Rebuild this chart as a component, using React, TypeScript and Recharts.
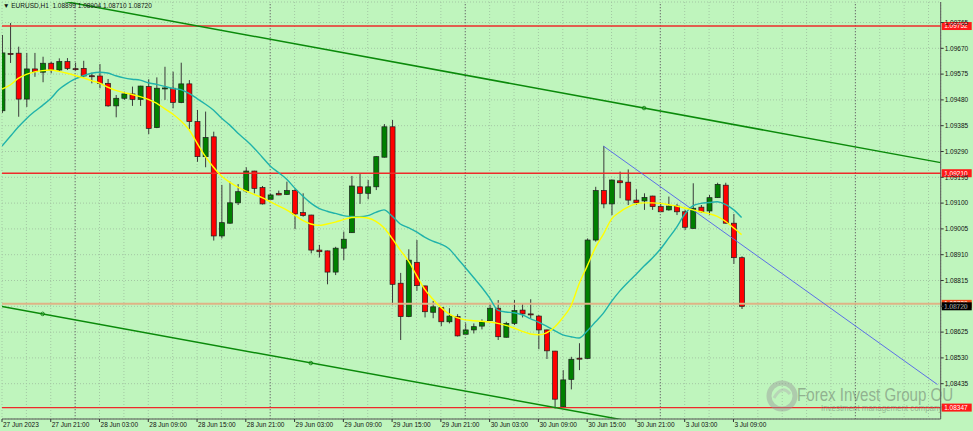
import React from 'react';
import {
  ComposedChart,
  Bar,
  Line,
  XAxis,
  YAxis,
  CartesianGrid,
  ReferenceLine,
  ReferenceDot,
} from 'recharts';

// EURUSD H1 candles, 27 Jun 15:00 .. 3 Jul 10:00
const opens = [
  1.0944, 1.09651, 1.09652, 1.09483, 1.09594, 1.09582, 1.09615, 1.0959, 1.09621, 1.09595,
  1.09596, 1.09569, 1.09568, 1.09541, 1.09458, 1.09486, 1.09502, 1.09482, 1.09529, 1.09378,
  1.09523, 1.09523, 1.0947, 1.09539, 1.094, 1.09271, 1.09344, 1.08979, 1.09026, 1.09101,
  1.09145, 1.09218, 1.09157, 1.09114, 1.09136, 1.09132, 1.09146, 1.09065, 1.09056, 1.08927,
  1.08924, 1.08846, 1.08934, 1.08991, 1.0916, 1.09136, 1.0916, 1.09269, 1.09381, 1.08805,
  1.08682, 1.08882, 1.08795, 1.08698, 1.08715, 1.08663, 1.08682, 1.08617, 1.08633, 1.08647,
  1.08667, 1.08713, 1.08606, 1.08657, 1.08706, 1.08692, 1.08684, 1.08633, 1.08555, 1.0835,
  1.08451, 1.08529, 1.08528, 1.08964, 1.09146, 1.09097, 1.09182, 1.09177, 1.09111, 1.09108,
  1.09126, 1.09087, 1.09075, 1.09089, 1.09068, 1.09007, 1.09085, 1.09071, 1.0912, 1.09166,
  1.09026, 1.08899,
];
const highs = [
  1.09719, 1.09763, 1.09676, 1.09653, 1.09653, 1.09639, 1.09621, 1.09633, 1.09634, 1.09617,
  1.09624, 1.0958, 1.09612, 1.09557, 1.09498, 1.0951, 1.09529, 1.09532, 1.09556, 1.09563,
  1.09602, 1.09584, 1.09617, 1.09553, 1.09443, 1.09437, 1.09363, 1.09167, 1.09179, 1.0917,
  1.09232, 1.09219, 1.09163, 1.09134, 1.09146, 1.09179, 1.09154, 1.09136, 1.09057, 1.08946,
  1.08925, 1.08939, 1.08995, 1.092, 1.09207, 1.09185, 1.09272, 1.09391, 1.09406, 1.08843,
  1.0893, 1.08964, 1.08796, 1.0874, 1.08716, 1.08713, 1.08691, 1.08657, 1.08657, 1.08672,
  1.08731, 1.08743, 1.08663, 1.08743, 1.08731, 1.08746, 1.08688, 1.08634, 1.08556, 1.08485,
  1.08534, 1.08584, 1.0897, 1.0916, 1.0931, 1.09186, 1.09216, 1.09224, 1.09151, 1.09136,
  1.09127, 1.09097, 1.09124, 1.09097, 1.09075, 1.09173, 1.09093, 1.0913, 1.09175, 1.09175,
  1.0906, 1.08904,
];
const lows = [
  1.09432, 1.09616, 1.09418, 1.09454, 1.09565, 1.09545, 1.09578, 1.09584, 1.0959, 1.09587,
  1.09563, 1.09541, 1.09523, 1.09455, 1.09416, 1.0948, 1.09458, 1.09458, 1.09354, 1.09376,
  1.0948, 1.09449, 1.09468, 1.09372, 1.09252, 1.09232, 1.08962, 1.0897, 1.09024, 1.09093,
  1.09138, 1.09136, 1.09095, 1.09111, 1.09129, 1.0913, 1.09004, 1.0905, 1.08915, 1.089,
  1.08801, 1.08835, 1.0889, 1.0899, 1.09097, 1.09114, 1.09148, 1.09268, 1.08725, 1.08596,
  1.0868, 1.08777, 1.08679, 1.08676, 1.08647, 1.08657, 1.08609, 1.08614, 1.0862, 1.08635,
  1.08666, 1.08596, 1.08605, 1.08651, 1.08679, 1.08676, 1.08562, 1.08526, 1.08344, 1.08349,
  1.08414, 1.08485, 1.08527, 1.08958, 1.09081, 1.09056, 1.09118, 1.09093, 1.09093, 1.09075,
  1.09075, 1.09067, 1.09072, 1.09056, 1.09001, 1.09006, 1.09064, 1.09056, 1.09119, 1.09025,
  1.08876, 1.0871,
];
const closes = [
  1.09653, 1.09649, 1.09483, 1.09594, 1.09584, 1.09615, 1.0959, 1.09621, 1.09596, 1.09594,
  1.09568, 1.09567, 1.09541, 1.09458, 1.09486, 1.09502, 1.09482, 1.09531, 1.09375, 1.09523,
  1.09524, 1.09471, 1.09539, 1.094, 1.09271, 1.09342, 1.08979, 1.09028, 1.09101, 1.09142,
  1.09218, 1.09154, 1.09097, 1.0913, 1.0913, 1.09146, 1.0906, 1.09054, 1.08927, 1.08921,
  1.08846, 1.08934, 1.08967, 1.09163, 1.09136, 1.0916, 1.09271, 1.09381, 1.08801, 1.08682,
  1.0889, 1.08796, 1.087, 1.08718, 1.08663, 1.08684, 1.08611, 1.08633, 1.08645, 1.08663,
  1.08713, 1.08608, 1.08657, 1.08704, 1.08692, 1.08691, 1.08633, 1.08556, 1.08378, 1.08449,
  1.08525, 1.08528, 1.08964, 1.09146, 1.09097, 1.09185, 1.09175, 1.09111, 1.09101, 1.09121,
  1.09087, 1.09068, 1.09089, 1.09068, 1.09011, 1.09081, 1.09068, 1.0912, 1.09169, 1.09026,
  1.08899, 1.0872,
];

// moving averages (yellow = fast, teal = slow)
const maFast = [
  1.0952, 1.09535, 1.09559, 1.09574, 1.09583, 1.09588, 1.0959, 1.09585, 1.09578, 1.0957,
  1.09561, 1.09551, 1.09542, 1.09527, 1.09515, 1.09507, 1.095, 1.09492, 1.09482, 1.09468,
  1.09448, 1.09428, 1.09403, 1.09371, 1.09321, 1.09273, 1.09233, 1.092, 1.09177, 1.09159,
  1.09145, 1.09132, 1.0912, 1.09105, 1.0909, 1.09075, 1.09056, 1.09036, 1.09023, 1.09018,
  1.09023, 1.0903, 1.09039, 1.09047, 1.09048, 1.09045, 1.09033, 1.09009, 1.0897, 1.08927,
  1.08887, 1.08834, 1.08783, 1.08747, 1.08716, 1.08692, 1.08678, 1.0867, 1.08667, 1.08665,
  1.08662, 1.08657, 1.0865, 1.0864, 1.08628, 1.08618, 1.08615, 1.08622, 1.08644, 1.08678,
  1.08721, 1.08802, 1.08868, 1.08935, 1.08986, 1.09041, 1.09067, 1.09085, 1.09097, 1.09101,
  1.09101, 1.09099, 1.09094, 1.09089, 1.09082, 1.09075, 1.09068, 1.09061, 1.09051, 1.09033,
  1.09009, 1.08984,
];
const maSlow = [
  1.0931, 1.09345, 1.0938, 1.09411, 1.09437, 1.0946, 1.09485, 1.09518, 1.0954, 1.09557,
  1.09569, 1.09578, 1.09582, 1.09579, 1.09569, 1.09561, 1.09556, 1.09553, 1.09543, 1.09537,
  1.0953, 1.09522, 1.09518, 1.09504, 1.09485, 1.09465, 1.09443, 1.09413, 1.09388, 1.09358,
  1.09332, 1.09303, 1.0927, 1.09237, 1.09213, 1.09189, 1.09156, 1.09126, 1.091, 1.09081,
  1.0907, 1.09062, 1.09054, 1.09051, 1.0905, 1.09054, 1.09066, 1.09075, 1.09052, 1.09023,
  1.0901, 1.08994, 1.08975, 1.0896, 1.08949, 1.08932, 1.08898, 1.08863, 1.08827, 1.08791,
  1.08751, 1.08706, 1.08699, 1.08696, 1.08689, 1.08675, 1.08662, 1.08647, 1.0863, 1.08615,
  1.08608, 1.08603, 1.08629, 1.08662, 1.08695, 1.08738, 1.08776, 1.08808, 1.08837, 1.08868,
  1.08897, 1.0893, 1.0897, 1.09011, 1.09059, 1.0909, 1.09099, 1.09102, 1.09105, 1.09095,
  1.09076, 1.09047,
];

const timeLabels = [
  '27 Jun 2023', '27 Jun 21:00', '28 Jun 03:00', '28 Jun 09:00', '28 Jun 15:00',
  '28 Jun 21:00', '29 Jun 03:00', '29 Jun 09:00', '29 Jun 15:00', '29 Jun 21:00',
  '30 Jun 03:00', '30 Jun 09:00', '30 Jun 15:00', '30 Jun 21:00', '3 Jul 03:00', '3 Jul 09:00',
];
const priceTicks = [
  1.09765, 1.0967, 1.09575, 1.0948, 1.09385, 1.0929, 1.09195, 1.091, 1.09005, 1.0891,
  1.08815, 1.0872, 1.08625, 1.0853, 1.08435,
];
const daySeparators = [9, 33, 57, 81, 105];
const gridTicks = Array.from({ length: 39 }, (_, k) => k * 3);

// drawn objects
const upperChannel = [{ x: 0, y: 1.09885 }, { x: 115.5, y: 1.09249 }];
const lowerChannel = [{ x: 0, y: 1.08719 }, { x: 80, y: 1.08282 }];
const channelAnchors = [
  { x: 5, y: 1.08692 },
  { x: 38, y: 1.08511 },
  { x: 79, y: 1.0945 },
];
const blueTrend = [{ x: 74, y: 1.0931 }, { x: 115.1, y: 1.08432 }];
const redLevels = [1.09752, 1.0921, 1.08347];
const tanLevel = 1.08729;
const lastPrice = 1.0872;

const data = opens.map((o, i) => ({
  i,
  open: o,
  high: highs[i],
  low: lows[i],
  close: closes[i],
  range: [lows[i], highs[i]],
  maFast: maFast[i],
  maSlow: maSlow[i],
}));

const FONT = '"Liberation Sans", Arial, sans-serif';

const Candle = (props: any) => {
  const { x, width, payload } = props;
  let { y, height } = props;
  if (height < 0) {
    y += height;
    height = -height;
  }
  const { open, close, high, low } = payload;
  const cx = x + width / 2;
  const k = height / (high - low || 1);
  const yO = y + (high - open) * k;
  const yC = y + (high - close) * k;
  const up = close > open;
  const top = Math.min(yO, yC);
  const h = Math.max(Math.abs(yO - yC), 1);
  return (
    <g>
      <line x1={cx} x2={cx} y1={y} y2={y + height} stroke="#3a3a3a" strokeWidth={1} />
      <rect
        x={x}
        y={top}
        width={width}
        height={h}
        fill={up ? '#008000' : open === close ? '#222' : '#ff0000'}
        stroke="#1e1e1e"
        strokeWidth={0.7}
      />
    </g>
  );
};

const PriceTag = ({ viewBox, text, bg }: any) => {
  if (!viewBox) return null;
  const x = viewBox.x + viewBox.width + 1;
  const y = viewBox.y;
  return (
    <g>
      <rect x={x} y={y - 4} width={30} height={8} fill={bg} />
      <text x={x + 2.5} y={y + 2.4} fill="#fff" fontSize={6.5} fontFamily={FONT}>
        {text}
      </text>
    </g>
  );
};

const TimeTick = (props: any) => {
  const { x, payload } = props;
  const v = payload.value;
  if (v % 6 !== 0 || v / 6 >= timeLabels.length) return null;
  return (
    <g>
      <line x1={x} x2={x} y1={419} y2={422} stroke="#333" />
      <text x={x + 1} y={426.5} fill="#111" fontSize={6.5} fontFamily={FONT}>
        {timeLabels[v / 6]}
      </text>
    </g>
  );
};

export default function App() {
  return (
    <div
      style={{
        position: 'absolute',
        left: 0,
        top: 0,
        width: 973,
        height: 431,
        background: '#bff5bd',
        overflow: 'hidden',
      }}
    >
      <ComposedChart
        width={973}
        height={431}
        data={data}
        margin={{ top: 2, right: 2, bottom: 0, left: 2 }}
      >
        <CartesianGrid stroke="#a3c7a3" strokeDasharray="1 2" />
        <XAxis
          dataKey="i"
          type="number"
          domain={[0, 115.5]}
          allowDataOverflow
          ticks={gridTicks}
          interval={0}
          height={12}
          tickLine={false}
          axisLine={{ stroke: '#555' }}
          tick={<TimeTick />}
        />
        <YAxis
          orientation="right"
          type="number"
          domain={[1.08305, 1.098405]}
          allowDataOverflow
          ticks={priceTicks}
          interval={0}
          width={30.3}
          tickSize={3}
          tickMargin={1}
          tickFormatter={(v: number) => v.toFixed(5)}
          tick={{ fontSize: 6.5, fill: '#111', fontFamily: FONT }}
          tickLine={{ stroke: '#333' }}
          axisLine={{ stroke: '#555' }}
        />
        {daySeparators.map((d) => (
          <ReferenceLine key={d} x={d} stroke="#6a6a6a" strokeDasharray="1 2" />
        ))}
        <ReferenceLine
          y={tanLevel}
          stroke="#dfb386"
          strokeWidth={2}
          label={<PriceTag text={tanLevel.toFixed(5)} bg="#f04a1a" />}
        />
        <ReferenceLine
          y={lastPrice}
          stroke="none"
          label={<PriceTag text={lastPrice.toFixed(5)} bg="#000" />}
        />
        {redLevels.map((p) => (
          <ReferenceLine
            key={p}
            y={p}
            stroke="#ee2a2a"
            strokeWidth={1.4}
            label={<PriceTag text={p.toFixed(5)} bg="#ff1a1a" />}
          />
        ))}
        <ReferenceLine segment={upperChannel} stroke="#0a8a0a" strokeWidth={1.5} ifOverflow="hidden" />
        <ReferenceLine segment={lowerChannel} stroke="#0a8a0a" strokeWidth={1.5} ifOverflow="hidden" />
        <ReferenceLine segment={blueTrend} stroke="#5b6fe6" strokeWidth={1} ifOverflow="hidden" />
        {channelAnchors.map((a) => (
          <ReferenceDot key={a.x} x={a.x} y={a.y} r={1.8} fill="none" stroke="#0a7a0a" strokeWidth={0.8} />
        ))}
        <Bar dataKey="range" barSize={5} shape={<Candle />} isAnimationActive={false} />
        <Line
          type="monotone"
          dataKey="maSlow"
          stroke="#20b2aa"
          strokeWidth={1.4}
          dot={false}
          isAnimationActive={false}
        />
        <Line
          type="monotone"
          dataKey="maFast"
          stroke="#ffff00"
          strokeWidth={1.4}
          dot={false}
          isAnimationActive={false}
        />
      </ComposedChart>
      <div
        style={{
          position: 'absolute',
          left: 3,
          top: 2,
          fontSize: 6.5,
          lineHeight: '8px',
          fontFamily: FONT,
          color: '#111',
          whiteSpace: 'pre',
        }}
      >
        {'▼ EURUSD,H1  1.08899 1.08904 1.08710 1.08720'}
      </div>
      <svg
        width={40}
        height={40}
        style={{ position: 'absolute', left: 762, top: 376, opacity: 0.45 }}
      >
        <circle cx={20} cy={20} r={13} fill="none" stroke="#9a9a9a" strokeWidth={5} />
        <path d="M12 22 Q20 8 28 18" fill="none" stroke="#b0b0b0" strokeWidth={3} />
      </svg>
      <div
        style={{
          position: 'absolute',
          left: 797,
          top: 385,
          fontSize: 18,
          lineHeight: '20px',
          fontFamily: FONT,
          color: 'rgba(100,110,100,0.5)',
          whiteSpace: 'pre',
          transform: 'scaleX(0.84)',
          transformOrigin: 'left top',
        }}
      >
        Forex Invest Group OÜ
      </div>
      <div
        style={{
          position: 'absolute',
          left: 821,
          top: 403,
          fontSize: 8.5,
          lineHeight: '10px',
          fontFamily: FONT,
          color: 'rgba(100,110,100,0.5)',
          whiteSpace: 'pre',
          transform: 'scaleX(0.93)',
          transformOrigin: 'left top',
        }}
      >
        Investment management company
      </div>
    </div>
  );
}
